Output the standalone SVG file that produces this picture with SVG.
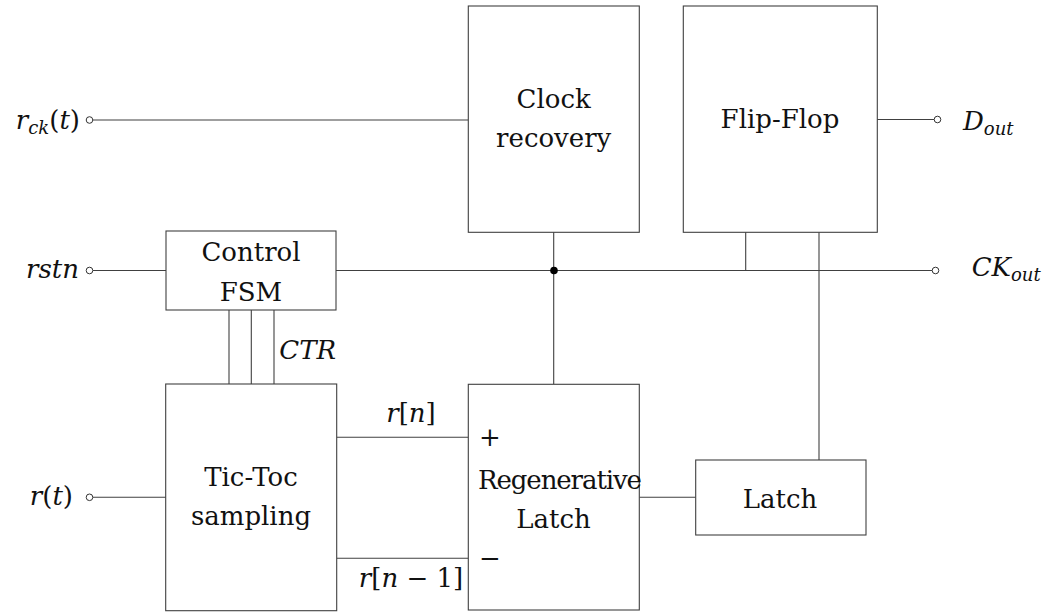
<svg xmlns="http://www.w3.org/2000/svg" width="1050" height="613" viewBox="0 0 1050 613">
<style>
.box{fill:#fff;stroke:#404040;stroke-width:1.1}
.w{fill:none;stroke:#404040;stroke-width:1.1}
.t{font-family:"DejaVu Serif","Liberation Serif",serif;font-size:26px;fill:#111}
.m{font-style:italic}
.s{font-size:18px}
.op{font-size:26px}
.port{fill:#fff;stroke:#333;stroke-width:1}
</style>
<g id="connectors">
<line class="w" x1="93" y1="120" x2="468" y2="120"/>
<line class="w" x1="877" y1="119.5" x2="934" y2="119.5"/>
<line class="w" x1="93" y1="270.5" x2="166" y2="270.5"/>
<line class="w" x1="336" y1="270.5" x2="932" y2="270.5"/>
<line class="w" x1="553.7" y1="232" x2="553.7" y2="384"/>
<line class="w" x1="745.7" y1="232" x2="745.7" y2="270.5"/>
<line class="w" x1="819" y1="232" x2="819" y2="460"/>
<line class="w" x1="229" y1="310" x2="229" y2="384"/>
<line class="w" x1="251.3" y1="310" x2="251.3" y2="384"/>
<line class="w" x1="274" y1="310" x2="274" y2="384"/>
<line class="w" x1="93" y1="497.3" x2="166" y2="497.3"/>
<line class="w" x1="336.7" y1="437.3" x2="468.3" y2="437.3"/>
<line class="w" x1="336.7" y1="558.3" x2="468.3" y2="558.3"/>
<line class="w" x1="639.3" y1="497.3" x2="695.7" y2="497.3"/>
<circle cx="554" cy="270.5" r="3.8" fill="#000"/>
<circle class="port" cx="89.5" cy="120" r="3.3"/>
<circle class="port" cx="89.5" cy="270.5" r="3.3"/>
<circle class="port" cx="89.5" cy="497.3" r="3.3"/>
<circle class="port" cx="937.5" cy="119.5" r="3.3"/>
<circle class="port" cx="935.5" cy="270.5" r="3.3"/>
</g>
<g id="clock-recovery">
<rect class="box" x="468.3" y="6" width="171" height="226.3"/>
<text class="t" x="553.7" y="108" text-anchor="middle">Clock</text>
<text class="t" x="553.7" y="147" text-anchor="middle">recovery</text>
</g>
<g id="flip-flop">
<rect class="box" x="683.3" y="6" width="194" height="226.3"/>
<text class="t" x="780" y="128" text-anchor="middle">Flip-Flop</text>
</g>
<g id="control-fsm">
<rect class="box" x="166" y="231" width="170" height="79"/>
<text class="t" x="251" y="261" text-anchor="middle">Control</text>
<text class="t" x="251" y="301" text-anchor="middle">FSM</text>
</g>
<g id="tic-toc">
<rect class="box" x="165.7" y="384" width="171" height="226.7"/>
<text class="t" x="251" y="486" text-anchor="middle">Tic-Toc</text>
<text class="t" x="251" y="525" text-anchor="middle">sampling</text>
</g>
<g id="regenerative-latch">
<rect class="box" x="468.3" y="384.3" width="171" height="225.7"/>
<text class="t op" x="490" y="446" text-anchor="middle">+</text>
<text class="t op" x="490" y="567" text-anchor="middle">−</text>
<text class="t" x="478" y="488.5" textLength="164">Regenerative</text>
<text class="t" x="553.5" y="528.3" text-anchor="middle">Latch</text>
</g>
<g id="latch">
<rect class="box" x="695.7" y="460" width="170.3" height="75"/>
<text class="t" x="780" y="508.3" text-anchor="middle">Latch</text>
</g>
<g id="labels">
<text class="t" x="80" y="129" text-anchor="end"><tspan class="m">r</tspan><tspan class="m s" dy="5">ck</tspan><tspan dy="-5">(</tspan><tspan class="m">t</tspan>)</text>
<text class="t m" x="79" y="278" text-anchor="end">rstn</text>
<text class="t" x="73" y="505" text-anchor="end"><tspan class="m">r</tspan>(<tspan class="m">t</tspan>)</text>
<text class="t m" x="279.3" y="359">CTR</text>
<text class="t" x="411" y="422" text-anchor="middle"><tspan class="m">r</tspan>[<tspan class="m">n</tspan>]</text>
<text class="t" x="411" y="587" text-anchor="middle"><tspan class="m">r</tspan>[<tspan class="m">n</tspan> − 1]</text>
<text class="t" x="963" y="130"><tspan class="m">D</tspan><tspan class="m s" dy="5">out</tspan></text>
<text class="t" x="971.7" y="276"><tspan class="m">CK</tspan><tspan class="m s" dy="5">out</tspan></text>
</g>
</svg>
